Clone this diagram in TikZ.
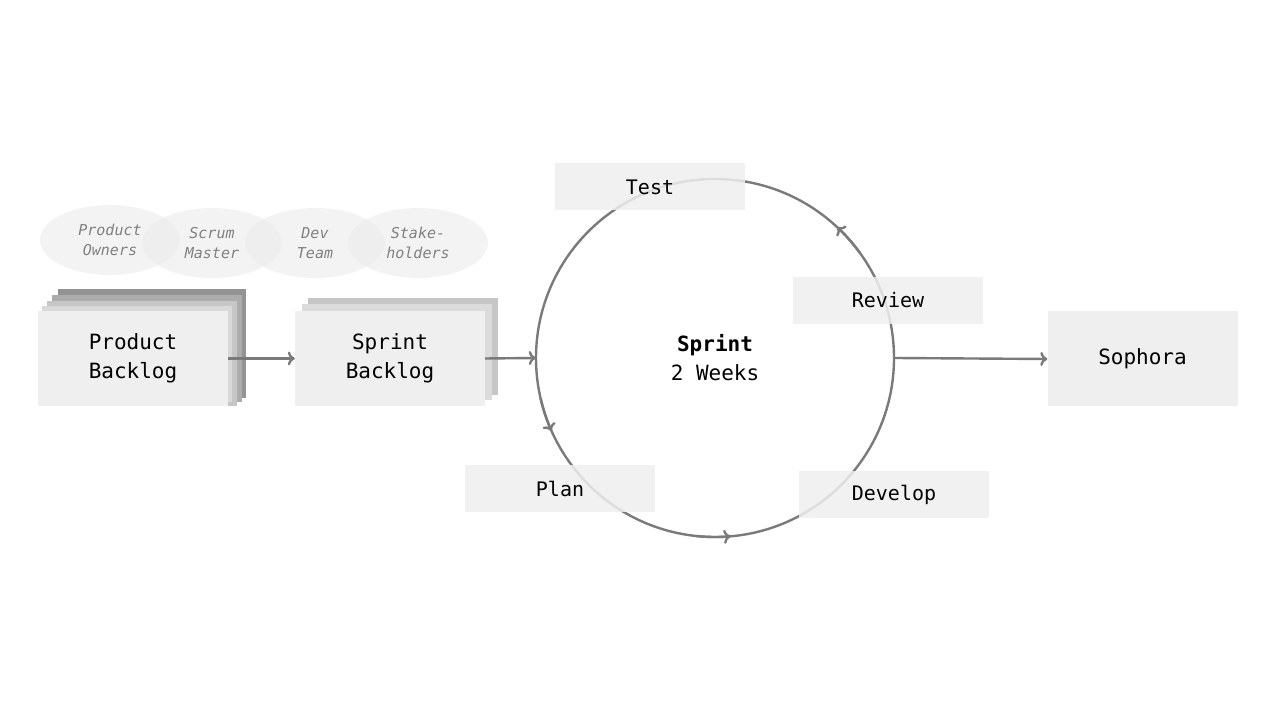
\documentclass[tikz,border=0pt]{standalone}
\usepackage{fontspec}
\setmonofont{DejaVu Sans Mono}
\usetikzlibrary{arrows.meta}
\definecolor{boxg}{HTML}{EFEFEF}
\definecolor{lineg}{HTML}{7A7A7A}
\tikzset{
  lbl/.style={fill=boxg,fill opacity=0.85,text opacity=1,minimum width=190pt,minimum height=47pt,inner sep=0pt,font=\ttfamily\fontsize{20}{24}\selectfont},
  bigbox/.style={fill=boxg,minimum width=190pt,minimum height=95pt,inner sep=0pt,align=center,font=\ttfamily\fontsize{21}{29}\selectfont},
  role/.style={ellipse,fill=boxg!80!gray!60,fill opacity=0.5,text opacity=1,minimum width=140pt,minimum height=70pt,inner sep=0pt,align=center,text=gray,font=\ttfamily\itshape\fontsize{15}{20}\selectfont},
  conn/.style={draw=lineg,line width=2.4pt,-{To[length=7pt,width=14pt,line width=2.4pt]}},
  ring/.style={draw=lineg,line width=2.4pt}
}
\usetikzlibrary{shapes.geometric}
\begin{document}
\begin{tikzpicture}[x=1pt,y=1pt]
\useasboundingbox (0,0) rectangle (1280,720);
% roles
\node[role] (po) at (110,480) {Product\\Owners};
\node[role] (sm) at (212,477) {Scrum\\Master};
\node[role] (dt) at (315,477) {Dev\\Team};
\node[role] (sh) at (418,477) {Stake-\\holders};
% product backlog stack
\fill[gray!85] (58,431) rectangle (246,322);
\fill[gray!65] (52,425) rectangle (242,318);
\fill[gray!45] (47,419) rectangle (237,314);
\fill[gray!30] (42,414) rectangle (232,318);
\node[bigbox] (pb) at (133,361.5) {Product\\Backlog};
% sprint backlog stack
\fill[gray!45] (308,422) rectangle (498,325);
\fill[gray!28] (302,416) rectangle (492,320);
\node[bigbox] (sb) at (390,361.5) {Sprint\\Backlog};
% ring
\coordinate (c) at (715,362);
\node[circle,minimum size=358pt,inner sep=0pt] (ring) at (c) {};
\draw[ring] (c) circle (179);
\draw[ring,-{To[length=7pt,width=14pt,line width=2.4pt]}] ([shift={(193:179)}]c) arc (193:204:179);
\draw[ring,-{To[length=7pt,width=14pt,line width=2.4pt]}] ([shift={(264:179)}]c) arc (264:275:179);
\draw[ring,-{To[length=7pt,width=14pt,line width=2.4pt]}] ([shift={(36:179)}]c) arc (36:47:179);
\node[align=center,font=\ttfamily\fontsize{21}{29}\selectfont] (sp) at (c) {\textbf{Sprint}\\2 Weeks};
% labels
\node[lbl] (test) at (650,533) {Test};
\node[lbl] (rev) at (888,419.5) {Review};
\node[lbl] (plan) at (560,231) {Plan};
\node[lbl] (dev) at (894,225.5) {Develop};
\node[bigbox] (soph) at (1142.5,361) {Sophora};
% connectors
\draw[conn] (pb.east) -- (sb.west);
\draw[conn] (sb.east) -- (ring.west);
\draw[conn] (ring.east) -- (soph.west);
\end{tikzpicture}
\end{document}
